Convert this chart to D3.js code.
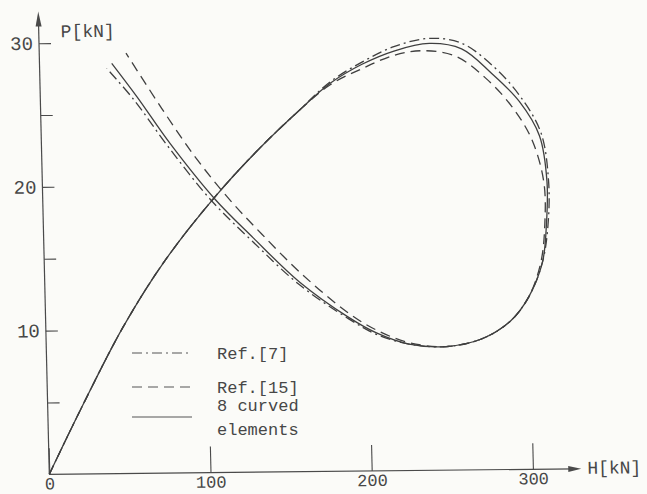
<!DOCTYPE html>
<html>
<head>
<meta charset="utf-8">
<script src="https://cdn.jsdelivr.net/npm/d3@7"></script>
<style>
  body { margin: 0; background: #fbfbf8; }
  svg { display: block; }
  text { font-family: "Liberation Mono", "DejaVu Sans Mono", monospace; fill: #474747; }
</style>
</head>
<body>
<div id="chart"></div>
<script>
// values, [H kN, P kN]
var curvedEight = [[0,0],[20,4.4],[48,10.2],[75,14.8],[107,19.2],[135,22.5],[161,25.2],[180,27.0],
  [200,28.3],[220,29.2],[242,29.7],[262,29.3],[280,27.6],[297,25.6],[309,23.2],[313,20],[312,17],
  [309,14.4],[300,12],[288,10.3],[270,9.1],[248,8.6],[225,8.8],[205,9.6],[188,10.7],[158,13.2],
  [130,16.3],[107,19.0],[80,22.9],[60,26.2],[44.8,28.55]];
var refSeven = [[0,0],[20,4.4],[48,10.2],[75,14.8],[107,19.2],[135,22.5],[161,25.2],[180,27.1],
  [200,28.45],[220,29.5],[242,30.05],[262,29.7],[282,28],[298,25.9],[310,23.4],[314,20],[313,17],
  [309,14.4],[300,12],[288,10.3],[270,9.1],[248,8.6],[225,8.8],[205,9.5],[188,10.6],[158,13.0],
  [130,16.0],[104,19.0],[78,22.8],[58,26.0],[41.6,28.2]];
var refFifteen = [[0,0],[20,4.4],[48,10.2],[75,14.8],[107,19.2],[135,22.5],[161,25.2],[180,26.9],
  [200,28.0],[220,28.9],[238,29.2],[258,28.8],[276,27.3],[292,25.3],[304,23],[311,20],[311,17],
  [308,14.4],[300,12],[288,10.3],[270,9.1],[248,8.6],[225,8.9],[205,9.8],[188,11.0],[160,13.7],
  [135,16.6],[115,19.1],[95,22.0],[75,25.4],[53.8,29.25]];

var xTicks = [0, 100, 200, 300];
var yTicks = [5, 10, 15, 20, 25, 30];
var yLabels = [10, 20, 30];

var legendItems = [
  {name: ["Ref.[7]"], dash: "10,4,2,4"},
  {name: ["Ref.[15]"], dash: "10,6"},
  {name: ["8 curved", "elements"], dash: null}
];

var W = 647, H = 494;
var svg = d3.select("#chart").append("svg").attr("width", W).attr("height", H);

var x = d3.scaleLinear().domain([0, 300]).range([0, 483.6]);
var y = d3.scaleLinear().domain([0, 30]).range([0, -431.1]);

// the scanned axes are slightly skewed
var g = svg.append("g").attr("transform", "matrix(1,-0.0104,0.0239,1,49.3,474.3)");

// axis lines with arrows
var ink = "#4a4a4a";
var xEnd = x(330), yEnd = y(32.2);
g.append("line").attr("x1", 0).attr("y1", 0).attr("x2", xEnd - 6).attr("y2", 0)
  .attr("stroke", ink).attr("stroke-width", 1.2);
g.append("path").attr("d", "M" + xEnd + ",0L" + (xEnd - 13) + ",-3L" + (xEnd - 13) + ",3Z").attr("fill", ink);
g.append("line").attr("x1", 0).attr("y1", 0).attr("x2", 0).attr("y2", yEnd + 6)
  .attr("stroke", ink).attr("stroke-width", 1.2);
g.append("path").attr("d", "M0," + yEnd + "L-3," + (yEnd + 15) + "L3," + (yEnd + 15) + "Z").attr("fill", ink);

var xAxis = g.append("g")
  .call(d3.axisBottom(x).tickValues(xTicks).tickSize(-26).tickPadding(3).tickFormat(d3.format("d")));
xAxis.select(".domain").remove();
xAxis.selectAll("line").attr("stroke", ink).attr("stroke-width", 1.1);
xAxis.selectAll("text").attr("font-size", 17).attr("font-family", null).attr("fill", null);

var yAxis = g.append("g")
  .call(d3.axisLeft(y).tickValues(yTicks).tickSize(-12).tickPadding(6)
    .tickFormat(function(d) { return yLabels.indexOf(d) > -1 ? d : ""; }));
yAxis.select(".domain").remove();
yAxis.selectAll("line").attr("stroke", ink).attr("stroke-width", 1.1);
yAxis.selectAll("text").attr("font-size", 19).attr("font-family", null).attr("fill", null);

g.append("text").attr("x", xEnd + 6).attr("y", 5).attr("font-size", 18).text("H[kN]");
g.append("text").attr("x", 22).attr("y", y(30.4)).attr("font-size", 18).text("P[kN]");

// curves
var line = d3.line()
  .x(function(d) { return x(d[0]); })
  .y(function(d) { return y(d[1]); })
  .curve(d3.curveCatmullRom.alpha(0.5));

var series = [
  {data: refSeven, dash: "10,4,2,4"},
  {data: refFifteen, dash: "10,6"},
  {data: curvedEight, dash: null}
];
g.selectAll("path.curve").data(series).enter().append("path")
  .attr("class", "curve")
  .attr("d", function(d) { return line(d.data); })
  .attr("fill", "none")
  .attr("stroke", "#3f3f3f")
  .attr("stroke-width", 1.3)
  .attr("stroke-dasharray", function(d) { return d.dash; });

// legend
var legend = svg.append("g").attr("transform", "translate(132,353)");
var rows = [0, 34, 64];
legendItems.forEach(function(item, i) {
  var row = legend.append("g").attr("transform", "translate(0," + rows[i] + ")");
  row.append("line").attr("x1", 0).attr("x2", 60).attr("y1", 0).attr("y2", 0)
    .attr("stroke", "#555").attr("stroke-width", 1.2).attr("stroke-dasharray", item.dash);
  item.name.forEach(function(t, j) {
    row.append("text").attr("x", 85).attr("y", (i == 2 ? -6 : 6) + j * 24)
      .attr("font-size", 17).text(t);
  });
});
</script>
</body>
</html>
